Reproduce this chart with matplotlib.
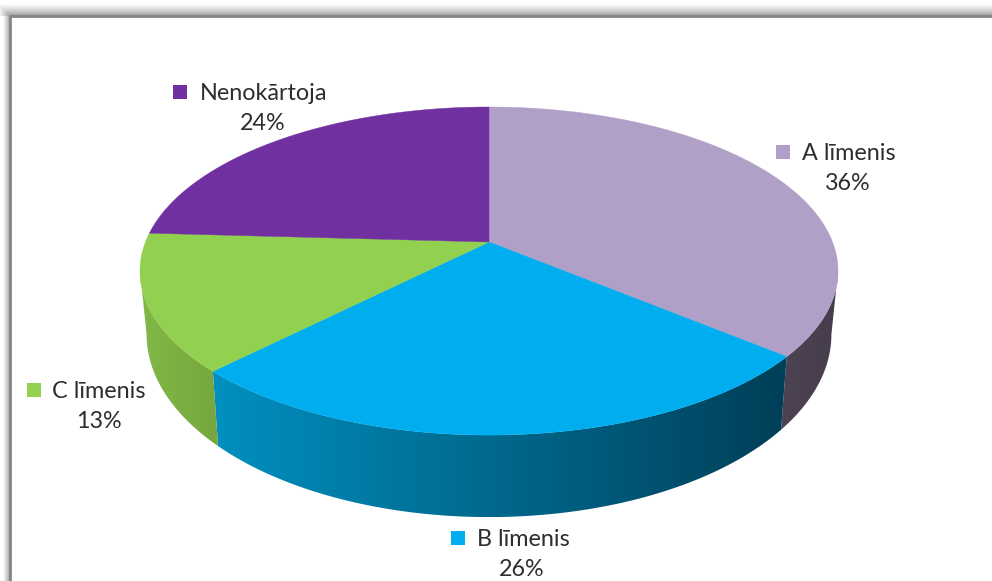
import numpy as np
import matplotlib
matplotlib.use("Agg")
import matplotlib.pyplot as plt
from matplotlib.colors import LinearSegmentedColormap
from matplotlib.patches import Polygon, Rectangle

# Data
categories = ["A līmenis", "B līmenis", "C līmenis", "Nenokārtoja"]
values = [36.05, 26.35, 13.49, 24.11]
top_colors = ["#b09fc6", "#00aeef", "#92d050", "#7030a0"]
side_left = ["#4d4353", "#0090c0", "#82b947", "#5a2680"]
side_right = ["#463d4c", "#003f58", "#76a63e", "#5a2680"]

# pie geometry in pixels (perspective of a flat disc)
cx, cy = 489, 242
k = 0.177
top_a, top_b = 343.5, 158.9
bot_a, bot_b, bot_cy = 337.0, 177.0, 302.0


def project(theta, a, b, yc):
    # theta is clockwise from 12 o'clock
    X, Y = np.sin(theta), np.cos(theta)
    d = 1 + k * Y
    return cx + a * X / d, yc - b * Y / d


plt.rcParams['font.family'] = ['Lato', 'DejaVu Sans']
fig = plt.figure(figsize=(9.92, 5.81), dpi=100)
ax = fig.add_axes([0, 0, 1, 1])

# window shadow and frame
yy, xx = np.mgrid[0:581, 0:992]
dist = np.clip(np.maximum(16 - yy, 10 - xx), 0, None)
limit = np.where(yy < 16, 13.0, 8.0)
shade = np.where(dist > 0, 1 - 0.42 * np.clip(1 - dist / limit, 0, 1) ** 1.3, 1.0)
ax.imshow(shade, cmap="gray", vmin=0, vmax=1, extent=(0, 992, 581, 0), aspect="auto", zorder=0)
ax.plot([10, 10, 992], [581, 16, 16], color="#858585", lw=2, zorder=1)

shares = np.array(values) / sum(values)
ends = np.cumsum(shares) * 2 * np.pi
starts = ends - shares * 2 * np.pi

# side wall, only the part between the two silhouette points shows
vis_from = np.arccos(-k)
vis_to = 2 * np.pi - vis_from
for i in range(len(values)):
    t0, t1 = max(starts[i], vis_from), min(ends[i], vis_to)
    if t1 <= t0:
        continue
    th = np.linspace(t0, t1, 200)
    xt, yt = project(th, top_a, top_b, cy)
    xb, yb = project(th, bot_a, bot_b, bot_cy)
    xs = np.r_[xt, xb[::-1]]
    ys = np.r_[yt, yb[::-1]]
    wall = Polygon(np.c_[xs, ys], closed=True, transform=ax.transData, fc="none", ec="none")
    ax.add_patch(wall)
    cmap = LinearSegmentedColormap.from_list("wall", [side_left[i], side_right[i]])
    grad = np.linspace(0, 1, 256).reshape(1, -1)
    im = ax.imshow(grad, cmap=cmap, extent=(xs.min(), xs.max(), ys.max(), ys.min()),
                   aspect="auto", zorder=2)
    im.set_clip_path(wall)

# top face
for i in range(len(values)):
    th = np.linspace(starts[i], ends[i], 200)
    x, y = project(th, top_a, top_b, cy)
    ax.fill(np.r_[cx, x], np.r_[cy, y], color=top_colors[i], lw=0.3, zorder=3)

# data labels
label_pos = [(802, 154, 776), (477, 540, 451), (52, 392, 27), (200, 94, 173)]
pct_pos = [(848, 184), (522, 570), (99, 421), (263, 124)]
for i, name in enumerate(categories):
    tx, ty, sx = label_pos[i]
    ax.add_patch(Rectangle((sx, ty - 9), 14, 14, color=top_colors[i], lw=0, zorder=4))
    ax.text(tx, ty, name, fontsize=16.8, color="#2e2e2e", va="center", ha="left", zorder=5)
    ax.text(pct_pos[i][0], pct_pos[i][1], f"{values[i]:.0f}%", fontsize=16.8, color="#2e2e2e",
            va="center", ha="center", zorder=5)

ax.set_xlim(0, 992)
ax.set_ylim(581, 0)
ax.axis("off")

fig.savefig("out.png", dpi=100)
